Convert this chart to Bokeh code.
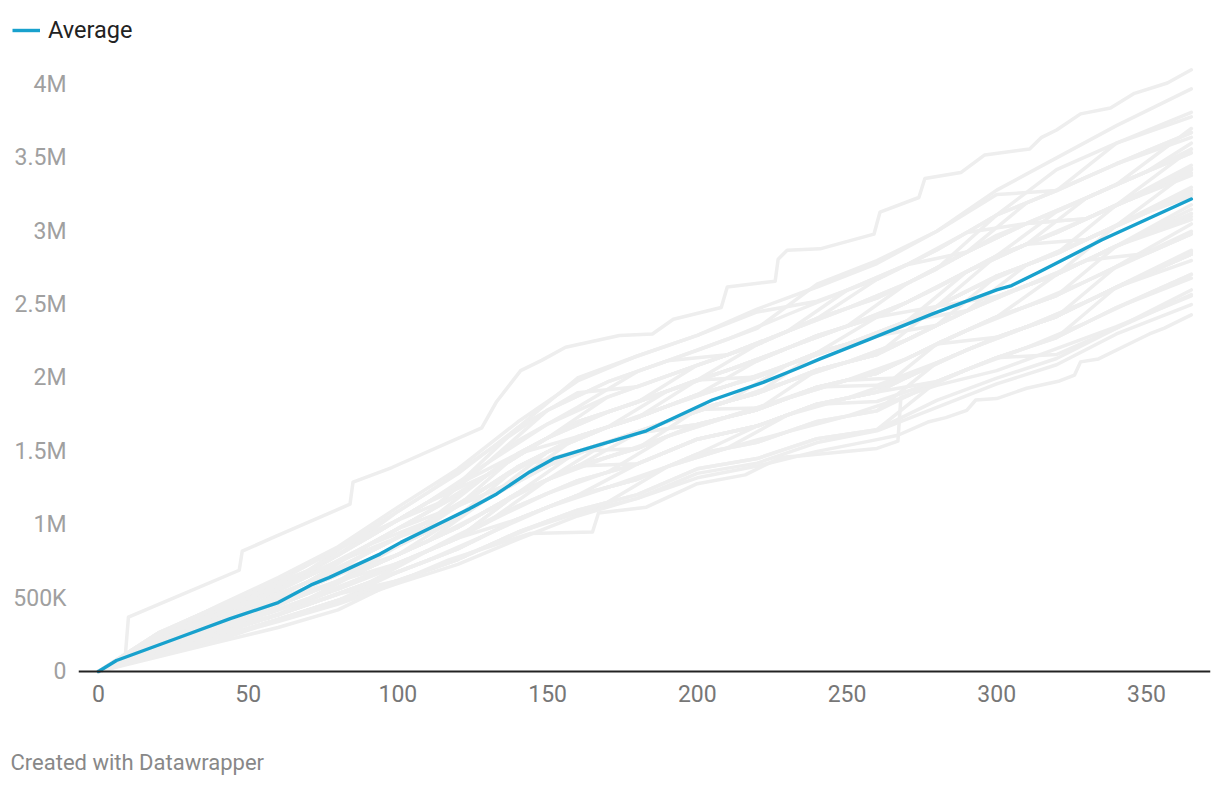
from bokeh.plotting import figure
from bokeh.layouts import column
from bokeh.models import (ColumnDataSource, Range1d, FixedTicker, Span, Label,
                          Legend, LegendItem)
from bokeh.embed import file_html
from bokeh.resources import INLINE

# ---------------- data (values in thousands) ----------------
DAYS = [0, 20, 40, 60, 80, 100, 120, 140, 160, 180, 200, 220, 240, 260, 280, 300, 320, 340, 365]
DAYS2 = [0, 10, 30, 50, 70, 90, 110, 130, 150, 170, 190, 210, 230, 250, 270, 290, 310, 330, 350, 365]

runs = [
    [0, 263, 444, 584, 792, 1091, 1347, 1661, 2000, 2150, 2290, 2450, 2523, 2672, 2872, 3111, 3420, 3600, 3810],
    [0, 246, 418, 617, 836, 1032, 1274, 1572, 1800, 2045, 2189, 2339, 2640, 2800, 3000, 3250, 3277, 3460, 3672],
    [0, 229, 392, 551, 792, 1032, 1274, 1661, 1900, 1940, 2088, 2228, 2406, 2672, 2872, 3111, 3277, 3600, 3780],
    [0, 212, 392, 551, 748, 973, 1201, 1483, 1700, 1835, 1987, 2228, 2406, 2544, 2744, 3111, 3277, 3460, 3640],
    [0, 195, 366, 518, 704, 914, 1128, 1483, 1700, 1835, 2088, 2228, 2406, 2544, 2744, 2972, 3134, 3320, 3700],
    [0, 246, 418, 584, 748, 973, 1128, 1394, 1600, 1730, 1886, 2117, 2289, 2416, 2616, 2833, 3134, 3320, 3534],
    [0, 212, 366, 485, 660, 855, 1055, 1394, 1600, 1730, 1886, 2006, 2172, 2416, 2616, 2833, 2991, 3180, 3560],
    [0, 178, 314, 485, 660, 855, 1128, 1394, 1600, 1730, 1987, 2117, 2289, 2416, 2488, 2694, 2848, 3180, 3396],
    [0, 229, 366, 518, 704, 914, 1055, 1305, 1500, 1625, 1785, 1895, 2172, 2288, 2488, 2694, 2848, 3040, 3420],
    [0, 195, 340, 485, 660, 796, 982, 1216, 1500, 1625, 1785, 1895, 2055, 2160, 2488, 2694, 2848, 3040, 3258],
    [0, 161, 288, 452, 616, 796, 982, 1216, 1400, 1625, 1785, 1895, 2055, 2160, 2360, 2555, 2705, 3040, 3280],
    [0, 212, 340, 485, 616, 796, 982, 1216, 1400, 1520, 1684, 1784, 2055, 2160, 2360, 2555, 2705, 2900, 3120],
    [0, 178, 314, 452, 616, 796, 1055, 1305, 1500, 1625, 1785, 1795, 1938, 2032, 2232, 2416, 2705, 2900, 3150],
    [0, 144, 288, 419, 572, 737, 909, 1216, 1400, 1520, 1684, 1784, 1938, 2032, 2232, 2416, 2562, 2760, 2982],
    [0, 195, 314, 452, 616, 737, 909, 1127, 1300, 1415, 1583, 1673, 1821, 1904, 2232, 2416, 2562, 2760, 3000],
    [0, 161, 288, 419, 560, 720, 930, 1127, 1300, 1415, 1583, 1673, 1821, 1904, 2104, 2277, 2419, 2620, 2844],
    [0, 144, 262, 386, 528, 678, 836, 1038, 1200, 1415, 1583, 1673, 1821, 1904, 2104, 2277, 2419, 2620, 2870],
    [0, 161, 288, 386, 528, 678, 836, 1038, 1200, 1310, 1482, 1562, 1704, 1776, 1976, 2138, 2276, 2480, 2706],
    [0, 127, 236, 353, 484, 678, 836, 1038, 1200, 1310, 1482, 1673, 1821, 1904, 1976, 2138, 2276, 2620, 2844],
    [0, 127, 236, 353, 484, 619, 763, 949, 1100, 1205, 1381, 1451, 1587, 1648, 1976, 2138, 2160, 2340, 2568],
    [0, 144, 262, 386, 528, 619, 763, 949, 1100, 1205, 1381, 1451, 1587, 1648, 1848, 1999, 2133, 2340, 2600],
    [0, 110, 210, 353, 484, 619, 763, 949, 1080, 1180, 1350, 1420, 1560, 1640, 1800, 1960, 2090, 2300, 2500],
    [0, 229, 392, 551, 748, 914, 1128, 1305, 1500, 1520, 1684, 1784, 1938, 1950, 2104, 2277, 2419, 2620, 2844],
    [0, 161, 288, 452, 616, 855, 1055, 1305, 1600, 1730, 1886, 2006, 2172, 2288, 2488, 2833, 2991, 3180, 3450],
    [0, 263, 444, 617, 836, 1032, 1274, 1483, 1700, 1835, 1987, 2006, 2172, 2288, 2488, 2555, 2705, 2900, 3180],
    [0, 127, 262, 386, 572, 737, 909, 1216, 1400, 1520, 1785, 1895, 2055, 2160, 2360, 2694, 2848, 3040, 3300],
    [0, 212, 366, 518, 704, 914, 1128, 1305, 1500, 1625, 1684, 1784, 1938, 2032, 2232, 2277, 2419, 2760, 3050],
    [0, 246, 418, 551, 748, 973, 1201, 1483, 1600, 1730, 1886, 2006, 2172, 2288, 2360, 2555, 2705, 2900, 3080],
    [0, 178, 314, 452, 616, 796, 982, 1216, 1400, 1415, 1583, 1673, 1821, 1840, 1976, 2138, 2276, 2480, 2680],
    [0, 144, 262, 386, 572, 737, 909, 1038, 1200, 1310, 1482, 1562, 1704, 1776, 2104, 2277, 2419, 2620, 2800],
    [0, 263, 418, 584, 792, 1032, 1201, 1483, 1700, 1835, 1987, 2117, 2289, 2416, 2616, 2833, 2991, 3180, 3380],
    [0, 195, 340, 518, 704, 914, 1128, 1394, 1500, 1625, 1684, 1784, 1938, 2032, 2232, 2416, 2562, 2900, 3100],
    [0, 250, 450, 640, 850, 1120, 1380, 1700, 1980, 2150, 2290, 2470, 2620, 2780, 3000, 3280, 3500, 3720, 3970],
]

runs_b = [
    [0, 122, 332, 501, 688, 964, 1219, 1504, 1781, 1973, 2117, 2264, 2431, 2598, 2772, 2858, 3053, 3227, 3406, 3534],
    [0, 104, 311, 472, 688, 912, 1153, 1423, 1781, 1973, 2117, 2158, 2317, 2475, 2644, 2858, 3194, 3369, 3546, 3672],
    [0, 113, 311, 442, 611, 861, 1087, 1423, 1686, 1870, 2014, 2158, 2317, 2598, 2772, 2992, 3053, 3227, 3406, 3560],
    [0, 95, 268, 413, 611, 809, 1021, 1342, 1592, 1768, 1911, 2052, 2203, 2353, 2644, 2858, 3053, 3086, 3267, 3420],
    [0, 86, 246, 383, 573, 758, 955, 1180, 1497, 1665, 1808, 1946, 2089, 2230, 2388, 2591, 2771, 2944, 3127, 3258],
    [0, 77, 225, 354, 496, 706, 889, 1099, 1308, 1563, 1705, 1840, 1975, 2108, 2260, 2458, 2630, 2803, 2988, 3120],
    [0, 68, 203, 324, 457, 603, 823, 1018, 1214, 1358, 1602, 1734, 1861, 1985, 2132, 2324, 2489, 2661, 2848, 2982],
    [0, 59, 182, 324, 457, 603, 757, 937, 1119, 1255, 1396, 1522, 1747, 1863, 2004, 2191, 2348, 2520, 2709, 2844],
    [0, 59, 182, 295, 419, 552, 691, 856, 1025, 1153, 1396, 1522, 1633, 1740, 1876, 2057, 2207, 2378, 2569, 2706],
    [0, 104, 289, 442, 611, 758, 955, 1180, 1403, 1563, 1705, 1840, 2089, 2230, 2388, 2725, 2912, 3086, 3267, 3396],
    [0, 122, 332, 472, 650, 861, 1021, 1261, 1497, 1665, 1808, 1946, 2089, 2230, 2388, 2458, 2630, 2803, 2848, 2982],
    [0, 77, 246, 383, 534, 706, 889, 1180, 1403, 1563, 1705, 1840, 1975, 2108, 2260, 2458, 2771, 2944, 3127, 3280],
    [0, 131, 354, 531, 688, 912, 1153, 1342, 1592, 1768, 1911, 2052, 2203, 2353, 2516, 2725, 2912, 2944, 3127, 3240],
    [0, 68, 225, 354, 496, 655, 823, 1018, 1308, 1460, 1602, 1734, 1861, 1985, 2004, 2191, 2348, 2520, 2709, 2860],
    [0, 113, 311, 472, 650, 861, 1087, 1342, 1592, 1870, 2014, 2158, 2317, 2475, 2644, 2858, 3053, 3086, 3267, 3430],
    [0, 95, 268, 413, 573, 809, 1021, 1261, 1497, 1665, 1911, 2052, 2203, 2353, 2516, 2725, 2912, 3227, 3406, 3600],
]

top_days = [0, 5, 9, 10, 25, 47, 48, 58, 84, 85, 98, 128, 133, 141, 148, 156, 174, 185, 192, 208, 210,
            226, 227, 230, 241, 259, 261, 274, 276, 288, 296, 311, 315, 320, 328, 338, 346, 357, 365]
top_vals = [0, 60, 120, 370, 500, 690, 820, 910, 1140, 1290, 1390, 1660, 1840, 2050, 2120, 2210, 2290,
            2300, 2400, 2480, 2620, 2660, 2810, 2870, 2880, 2980, 3130, 3230, 3360, 3400, 3520, 3560,
            3640, 3690, 3800, 3840, 3940, 4010, 4100]

low1_days = [0, 20, 40, 60, 80, 94, 117, 144, 165, 167, 183, 200, 216, 228, 235, 260, 267, 268,
             280, 300, 320, 340, 365]
low1_vals = [0, 100, 200, 300, 420, 560, 760, 940, 950, 1080, 1120, 1280, 1340, 1460, 1470, 1520,
             1570, 1870, 1950, 2050, 2200, 2350, 2560]

low2_days = [0, 20, 40, 60, 80, 100, 120, 140, 160, 180, 200, 220, 240, 260, 267, 277, 283, 290,
             293, 300, 310, 321, 326, 328, 334, 345, 351, 356, 365]
low2_vals = [0, 110, 230, 340, 460, 600, 730, 900, 1060, 1180, 1320, 1400, 1500, 1580, 1610, 1700,
             1730, 1780, 1850, 1860, 1930, 1980, 2020, 2110, 2130, 2240, 2300, 2340, 2430]

avg_days = [0, 6, 26, 44, 47, 60, 71, 77, 94, 101, 111, 124, 133, 144, 152, 165, 183, 205, 222,
            234, 241, 257, 279, 300, 305, 314, 335, 365]
avg_vals = [0, 75, 225, 360, 380, 470, 590, 640, 800, 880, 980, 1110, 1210, 1360, 1450, 1530, 1640,
            1850, 1970, 2070, 2130, 2260, 2440, 2600, 2630, 2720, 2940, 3220]

x_ticks = [0, 50, 100, 150, 200, 250, 300, 350]
y_ticks = [0, 500, 1000, 1500, 2000, 2500, 3000, 3500, 4000]
y_tick_labels = ["0", "500K", "1M", "1.5M", "2M", "2.5M", "3M", "3.5M", "4M"]

FONT = "Roboto"
BLUE = "#18a1cd"
W = 1212


def bare_figure(height):
    # strip without axes; ranges lie away from the data so nothing but annotations shows
    f = figure(width=W, height=height, output_backend="svg", toolbar_location=None, title=None,
               x_axis_type=None, y_axis_type=None,
               x_range=Range1d(-20, -10), y_range=Range1d(-20, -10),
               min_border_left=0, min_border_right=0, min_border_top=0, min_border_bottom=0,
               frame_align=False)
    f.outline_line_color = None
    f.xgrid.visible = False
    f.ygrid.visible = False
    return f


# ---------------- legend strip ----------------
p_leg = bare_figure(60)
swatch = p_leg.line(avg_days, avg_vals, line_color=BLUE, line_width=3.4, line_cap="butt")
legend = Legend(items=[LegendItem(label="Average", renderers=[swatch])], location=(12, 16),
                padding=0, margin=0, border_line_color=None, background_fill_alpha=0,
                glyph_width=28, glyph_height=24, label_height=24, label_standoff=8,
                label_text_font=FONT, label_text_font_size="23.5px", label_text_color="#222222")
p_leg.add_layout(legend)

# ---------------- main chart ----------------
p = figure(width=W, height=660, output_backend="svg", toolbar_location=None, title=None,
           x_range=Range1d(-6.68, 371.4), y_range=Range1d(-13.6, 4163.5),
           min_border_left=78, min_border_right=2, min_border_top=0, min_border_bottom=47,
           frame_align=False)
p.outline_line_color = None
p.xgrid.visible = False
p.ygrid.visible = False
p.background_fill_color = "white"
p.border_fill_color = "white"

gx = [DAYS for _ in runs] + [DAYS2 for _ in runs_b] + [top_days, low1_days, low2_days]
gy = list(runs) + list(runs_b) + [top_vals, low1_vals, low2_vals]
p.multi_line(xs="xs", ys="ys", source=ColumnDataSource(dict(xs=gx, ys=gy)),
             line_color="#eeeeee", line_width=3.5, line_join="round", line_cap="round")

p.add_layout(Span(location=0, dimension="width", line_color="#222222", line_width=2))

p.line(avg_days, avg_vals, line_color=BLUE, line_width=3.4, line_join="round", line_cap="round")

p.xaxis.ticker = FixedTicker(ticks=x_ticks)
p.xaxis.axis_line_color = None
p.xaxis.major_tick_line_color = None
p.xaxis.minor_tick_line_color = None
p.xaxis.major_tick_out = 0
p.xaxis.major_label_standoff = 11
p.xaxis.major_label_text_font = FONT
p.xaxis.major_label_text_font_size = "23px"
p.xaxis.major_label_text_color = "#777777"

p.yaxis.ticker = FixedTicker(ticks=y_ticks)
p.yaxis.major_label_overrides = {t: l for t, l in zip(y_ticks, y_tick_labels)}
p.yaxis.axis_line_color = None
p.yaxis.major_tick_line_color = None
p.yaxis.minor_tick_line_color = None
p.yaxis.major_tick_out = 0
p.yaxis.major_label_standoff = 12
p.yaxis.major_label_text_font = FONT
p.yaxis.major_label_text_font_size = "23px"
p.yaxis.major_label_text_color = "#a0a0a0"

# ---------------- footer strip ----------------
p_foot = bare_figure(60)
p_foot.add_layout(Label(x=10, y=18, x_units="screen", y_units="screen",
                        text="Created with Datawrapper", text_font=FONT, text_font_size="22px",
                        text_color="#888888", text_baseline="middle"))

page = column(p_leg, p, p_foot, spacing=0)
open("out.html", "w").write(file_html(page, INLINE))
